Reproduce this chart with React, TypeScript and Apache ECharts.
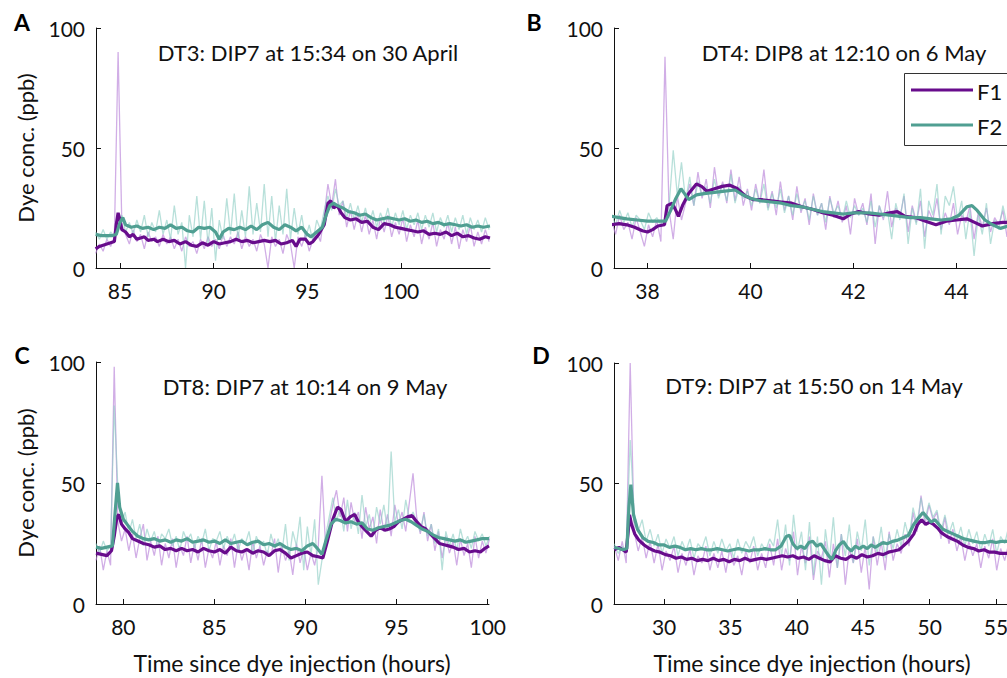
import React, { useEffect, useRef } from "react";
import * as echarts from "echarts";

// ---------- Tick labels ----------
const ticksA = [85, 90, 95, 100];
const ticksB = [38, 40, 42, 44];
const ticksC = [80, 85, 90, 95, 100];
const ticksD = [30, 35, 40, 45, 50, 55];
const yTicks = [0, 50, 100];

// ---------- Titles ----------
const titles = [
  "DT3: DIP7 at 15:34 on 30 April",
  "DT4: DIP8 at 12:10 on 6 May",
  "DT8: DIP7 at 10:14 on 9 May",
  "DT9: DIP7 at 15:50 on 14 May",
];
const panelLetters = ["A", "B", "C", "D"];
const seriesNames = ["F1", "F2"];

// ---------- Panel A (raw samples every 0.2 h from 83.7 h) ----------
const rawStartA = 83.7;
const rawStepA = 0.2;
const rawF1A = [6, 10, 7, 12, 9, 13, 90, 18, 14, 10, 16, 11, 14, 8, 15, 11, 13, 9, 14, 10, 13, 8, 12, 7, 13, 9, 11, 6, 12, 8, 13, 9, 12, 8, 14, 9, 13, 10, 15, 8, 13, 9, 12, 7, 14, 10, 0, 13, 9, 12, 6, 14, 10, 0, 13, 9, 14, 7, 12, 15, 11, 22, 35, 26, 37, 22, 28, 17, 24, 16, 23, 15, 22, 14, 20, 12, 21, 15, 22, 13, 19, 14, 21, 11, 18, 13, 20, 10, 17, 12, 19, 9, 16, 12, 19, 10, 17, 8, 16, 11, 18, 9, 15, 10, 16, 11];
const rawF2A = [15, 12, 16, 12, 15, 13, 17, 22, 15, 19, 14, 20, 15, 22, 13, 19, 15, 24, 14, 20, 12, 26, 14, 19, 0, 22, 13, 30, 12, 28, 10, 25, 3, 20, 12, 29, 14, 31, 12, 24, 13, 34, 14, 27, 15, 35, 13, 30, 11, 26, 14, 33, 12, 25, 14, 22, 12, 18, 11, 20, 16, 24, 30, 24, 33, 26, 28, 21, 27, 20, 26, 19, 25, 18, 24, 17, 23, 19, 25, 17, 23, 18, 24, 16, 22, 18, 23, 16, 22, 17, 23, 15, 21, 17, 22, 15, 21, 16, 22, 14, 21, 16, 20, 15, 21, 16];
const smoothF1A = [[83.7, 8], [83.9, 9], [84.1, 9.5], [84.3, 10], [84.5, 10.5], [84.7, 11], [84.8, 18], [84.9, 23], [85.0, 20], [85.1, 16], [85.3, 15], [85.5, 13], [85.7, 14], [85.9, 12], [86.1, 12.5], [86.3, 13], [86.5, 11.5], [86.8, 12], [87.0, 11], [87.3, 12], [87.6, 11], [87.9, 11.5], [88.2, 10], [88.5, 11], [88.8, 9.5], [89.1, 9], [89.4, 10.5], [89.7, 9.5], [90.0, 11], [90.3, 10], [90.6, 10.5], [90.9, 11], [91.2, 12], [91.5, 11], [91.8, 11.5], [92.1, 10.5], [92.4, 11], [92.7, 11.5], [93.0, 11], [93.3, 11.5], [93.6, 10], [93.9, 10.5], [94.2, 11.5], [94.4, 9], [94.6, 12], [94.9, 12], [95.1, 10], [95.3, 11], [95.6, 14], [95.9, 18], [96.1, 27], [96.25, 28], [96.4, 25], [96.6, 26], [96.8, 23], [97.0, 21], [97.3, 20], [97.6, 20.5], [97.9, 19], [98.2, 19.5], [98.5, 17], [98.8, 16], [99.1, 18.5], [99.4, 18], [99.7, 17], [100.0, 16.5], [100.3, 16], [100.6, 15.5], [100.9, 15], [101.2, 15.5], [101.5, 14], [101.8, 14.5], [102.1, 14], [102.4, 15], [102.7, 13.5], [103.0, 14.5], [103.3, 13], [103.6, 13.5], [103.9, 12.5], [104.2, 12], [104.5, 13], [104.75, 12.5]];
const smoothF2A = [[83.7, 14], [84.0, 13.5], [84.3, 13.5], [84.6, 13.5], [84.8, 14], [85.0, 19], [85.15, 21], [85.3, 18], [85.6, 17], [85.9, 17.5], [86.2, 16.5], [86.5, 17], [86.8, 16], [87.1, 17], [87.4, 16.5], [87.7, 18], [88.0, 16.5], [88.3, 17], [88.6, 15.5], [88.9, 15], [89.2, 17], [89.5, 16.5], [89.8, 17], [90.1, 15], [90.3, 12], [90.5, 15], [90.8, 16.5], [91.1, 16], [91.4, 17], [91.7, 16], [92.0, 17.5], [92.3, 16], [92.6, 18], [92.9, 19], [93.2, 17], [93.5, 16], [93.8, 18], [94.1, 17], [94.4, 15.5], [94.7, 17], [95.0, 14], [95.2, 13], [95.5, 15], [95.8, 17], [96.0, 22], [96.2, 26], [96.4, 27], [96.6, 26], [96.9, 25], [97.2, 23.5], [97.5, 23], [97.8, 22], [98.1, 22.5], [98.4, 21], [98.7, 20], [99.0, 20.5], [99.3, 21], [99.6, 20.5], [99.9, 20], [100.2, 20.5], [100.5, 19.5], [100.8, 20], [101.1, 19], [101.4, 19.5], [101.7, 18.5], [102.0, 19], [102.3, 18], [102.6, 18.5], [102.9, 18], [103.2, 17.5], [103.5, 18], [103.8, 17], [104.1, 17.5], [104.4, 17], [104.75, 17.5]];

// ---------- Panel B (raw samples every 0.08 h from 37.3 h) ----------
const rawStartB = 37.3;
const rawStepB = 0.08;
const rawF1B = [20, 14, 22, 16, 19, 12, 21, 15, 9, 18, 13, 20, 11, 88, 24, 12, 30, 20, 27, 35, 26, 40, 29, 37, 25, 42, 30, 36, 27, 41, 28, 38, 26, 33, 24, 35, 27, 41, 25, 32, 22, 36, 24, 30, 20, 34, 23, 29, 18, 31, 22, 27, 16, 30, 21, 28, 19, 26, 14, 29, 22, 27, 18, 31, 10, 26, 20, 32, 17, 25, 21, 30, 15, 26, 19, 28, 13, 24, 20, 29, 16, 23, 18, 27, 14, 22, 19, 26, 12, 23, 17, 25, 15, 21, 18, 24, 13, 22, 17, 25, 15, 21, 18, 23];
const rawF2B = [22, 18, 24, 19, 23, 17, 22, 20, 16, 23, 19, 21, 18, 20, 26, 49, 30, 44, 28, 38, 26, 36, 30, 34, 27, 37, 29, 35, 28, 39, 27, 34, 29, 32, 26, 33, 27, 35, 24, 31, 25, 33, 23, 30, 22, 31, 24, 28, 20, 30, 22, 27, 19, 29, 23, 26, 20, 28, 21, 26, 22, 25, 19, 28, 17, 26, 21, 24, 12, 27, 20, 31, 10, 25, 18, 33, 8, 28, 22, 35, 14, 30, 26, 34, 20, 28, 12, 24, 5, 22, 14, 27, 10, 20, 16, 26, 18, 23, 15, 24, 19, 22, 17, 21];
const smoothF1B = [[37.3, 18], [37.45, 18.5], [37.6, 18], [37.75, 17], [37.9, 15.5], [38.0, 15], [38.1, 16], [38.2, 17.5], [38.33, 18], [38.38, 26], [38.48, 27], [38.55, 24], [38.6, 21.5], [38.68, 26], [38.8, 31], [38.95, 35], [39.05, 34], [39.15, 32], [39.3, 33], [39.45, 34], [39.6, 34.5], [39.75, 33], [39.9, 30], [40.05, 28.5], [40.2, 28.5], [40.4, 28], [40.6, 27.5], [40.8, 27], [41.0, 25.5], [41.2, 24.5], [41.4, 23], [41.6, 22], [41.8, 20.5], [41.95, 22.5], [42.1, 23.5], [42.3, 22.5], [42.5, 22], [42.7, 23], [42.85, 23.5], [43.0, 21.5], [43.2, 21], [43.4, 19.5], [43.6, 18], [43.8, 19.5], [44.0, 20], [44.2, 20.5], [44.35, 19], [44.5, 17.5], [44.7, 18.5], [44.9, 19], [45.1, 19], [45.3, 18.5], [45.6, 19]];
const smoothF2B = [[37.3, 21.5], [37.45, 21], [37.6, 20.5], [37.8, 20], [38.0, 19.5], [38.2, 19.5], [38.35, 19.5], [38.45, 24], [38.55, 29], [38.65, 33], [38.72, 31], [38.8, 28.5], [38.95, 30.5], [39.1, 31], [39.3, 31.5], [39.5, 32], [39.7, 32.5], [39.85, 30.5], [40.0, 29], [40.2, 28], [40.4, 27.5], [40.6, 27], [40.8, 26], [41.0, 25.5], [41.2, 24.5], [41.4, 23.5], [41.6, 23], [41.8, 22.5], [42.0, 23], [42.3, 23], [42.5, 22.5], [42.7, 22], [42.9, 21.5], [43.1, 21], [43.3, 21], [43.5, 20.5], [43.7, 20], [43.9, 20.5], [44.05, 22], [44.2, 25.5], [44.3, 26], [44.4, 24], [44.55, 20], [44.7, 18], [44.85, 16.5], [45.0, 17.5], [45.15, 20], [45.3, 21], [45.6, 20.5]];

// ---------- Panel C (raw samples every 0.2 h from 78.5 h) ----------
const rawStartC = 78.5;
const rawStepC = 0.2;
const rawF1C = [18, 24, 14, 22, 16, 98, 34, 26, 31, 22, 29, 19, 27, 33, 18, 26, 20, 28, 16, 25, 19, 27, 15, 24, 20, 28, 17, 25, 18, 27, 15, 23, 19, 26, 16, 24, 20, 27, 15, 25, 18, 23, 14, 26, 19, 24, 16, 22, 20, 27, 13, 24, 18, 22, 12, 25, 17, 23, 14, 21, 16, 24, 53, 24, 33, 41, 47, 36, 44, 30, 42, 34, 38, 27, 40, 31, 36, 25, 39, 30, 37, 28, 41, 33, 38, 30, 42, 54, 36, 29, 38, 26, 33, 22, 30, 19, 28, 21, 26, 16, 27, 20, 25, 15, 28, 19, 26, 21, 27];
const rawF2C = [25, 21, 26, 22, 24, 82, 48, 33, 38, 29, 35, 27, 33, 24, 31, 26, 30, 23, 29, 27, 31, 24, 28, 22, 30, 26, 29, 23, 28, 25, 31, 22, 27, 26, 30, 23, 28, 24, 29, 22, 27, 25, 30, 21, 28, 24, 26, 20, 29, 23, 27, 21, 33, 18, 30, 24, 36, 14, 32, 20, 35, 8, 18, 28, 36, 44, 34, 40, 30, 43, 31, 38, 29, 45, 32, 37, 28, 40, 33, 41, 30, 63, 34, 39, 31, 43, 35, 38, 34, 30, 37, 28, 33, 25, 31, 14, 30, 24, 29, 22, 31, 25, 28, 23, 30, 26, 29, 24, 28];
const smoothF1C = [[78.5, 21], [78.8, 20.5], [79.1, 20], [79.35, 22], [79.5, 28], [79.65, 36], [79.75, 37], [79.9, 33], [80.1, 31], [80.3, 29.5], [80.5, 27], [80.8, 26], [81.1, 25], [81.4, 24.5], [81.7, 23.5], [82.0, 24], [82.3, 22.5], [82.6, 23], [82.9, 22], [83.2, 23], [83.5, 22], [83.8, 22.5], [84.1, 21.5], [84.4, 23], [84.7, 22], [85.0, 21.5], [85.3, 22.5], [85.6, 21], [85.9, 23.5], [86.2, 22], [86.5, 21.5], [86.8, 22.5], [87.1, 21], [87.4, 22], [87.7, 21.5], [88.0, 20], [88.3, 22], [88.6, 22.5], [88.9, 21], [89.2, 19], [89.5, 20], [89.8, 21], [90.1, 21.5], [90.4, 20], [90.7, 19.5], [90.95, 19], [91.2, 26], [91.5, 35], [91.75, 40], [91.95, 39], [92.2, 34], [92.45, 36], [92.7, 37], [92.9, 34], [93.1, 32], [93.35, 30], [93.6, 28], [93.85, 30.5], [94.1, 31.5], [94.35, 30.5], [94.6, 31], [94.85, 32], [95.1, 34], [95.35, 35], [95.6, 36], [95.85, 36.5], [96.1, 34], [96.35, 32], [96.6, 31], [96.85, 29], [97.1, 27], [97.35, 25], [97.6, 24.5], [97.85, 24], [98.1, 23.5], [98.4, 22.5], [98.7, 23], [99.0, 21.5], [99.3, 22], [99.6, 21.5], [99.85, 23], [100.07, 24]];
const smoothF2C = [[78.5, 23.5], [78.8, 23], [79.1, 23.5], [79.4, 24], [79.55, 38], [79.68, 50], [79.8, 40], [80.0, 35], [80.2, 33], [80.5, 30], [80.8, 28], [81.1, 27], [81.4, 26.5], [81.7, 27], [82.0, 26], [82.3, 26.5], [82.6, 25.5], [82.9, 26.5], [83.2, 26], [83.5, 27], [83.8, 25.5], [84.1, 26], [84.4, 26.5], [84.7, 25.5], [85.0, 26], [85.3, 25], [85.6, 26.5], [85.9, 25], [86.2, 25.5], [86.5, 26], [86.8, 24.5], [87.1, 25.5], [87.4, 26], [87.7, 24.5], [88.0, 25], [88.3, 24], [88.6, 25], [88.9, 23.5], [89.2, 22.5], [89.5, 23], [89.8, 22], [90.1, 24], [90.4, 25], [90.65, 23], [90.9, 20.5], [91.15, 27], [91.4, 33], [91.65, 35], [91.9, 34.5], [92.2, 33.5], [92.5, 34], [92.8, 33], [93.1, 33.5], [93.4, 31], [93.7, 30.5], [94.0, 31.5], [94.3, 32], [94.6, 32.5], [94.9, 33.5], [95.2, 34.5], [95.5, 35], [95.8, 34], [96.1, 32.5], [96.4, 31], [96.7, 30], [97.0, 28.5], [97.3, 27.5], [97.6, 27], [97.9, 26.5], [98.2, 26], [98.5, 26.5], [98.8, 25.5], [99.1, 26], [99.4, 26.5], [99.7, 27], [100.07, 27]];

// ---------- Panel D (raw samples every 0.3 h from 26.25 h) ----------
const rawStartD = 26.25;
const rawStepD = 0.3;
const rawF1D = [24, 18, 26, 17, 100, 30, 22, 28, 19, 26, 17, 25, 14, 22, 18, 24, 13, 21, 16, 23, 12, 20, 17, 24, 14, 21, 15, 22, 13, 23, 16, 20, 12, 22, 17, 24, 14, 21, 15, 25, 16, 27, 14, 23, 18, 30, 12, 24, 17, 28, 10, 22, 19, 26, 11, 25, 15, 29, 8, 23, 17, 27, 13, 24, 6, 28, 16, 26, 14, 30, 18, 25, 21, 29, 24, 38, 30, 45, 33, 41, 35, 38, 27, 36, 25, 31, 22, 28, 18, 26, 20, 25, 15, 24, 19, 27, 14, 23, 18, 25, 15, 22, 19, 24, 16, 23, 17, 22];
const rawF2D = [25, 21, 24, 22, 68, 38, 30, 35, 26, 31, 24, 29, 21, 27, 23, 28, 20, 26, 22, 27, 19, 25, 23, 28, 20, 26, 21, 27, 22, 25, 19, 27, 21, 26, 23, 28, 20, 25, 22, 27, 24, 35, 20, 33, 16, 37, 22, 30, 14, 34, 12, 28, 8, 31, 18, 36, 15, 29, 20, 33, 17, 30, 22, 35, 16, 28, 21, 32, 19, 29, 23, 31, 24, 34, 27, 40, 33, 44, 35, 42, 36, 39, 30, 37, 29, 34, 26, 32, 24, 31, 25, 30, 22, 29, 24, 31, 21, 28, 25, 32, 22, 29, 24, 30, 23, 28, 25, 29];
const smoothF1D = [[26.25, 22.5], [26.6, 23.5], [26.9, 22.5], [27.15, 21.5], [27.3, 30], [27.4, 37], [27.55, 33], [27.8, 29], [28.1, 26.5], [28.5, 24.5], [28.9, 23], [29.3, 22], [29.7, 21.5], [30.1, 20.5], [30.5, 20], [30.9, 19], [31.3, 19.5], [31.7, 18.5], [32.1, 19], [32.5, 18], [32.9, 18.5], [33.3, 18], [33.7, 19], [34.1, 18], [34.5, 18.5], [34.9, 17.5], [35.3, 18.5], [35.7, 18], [36.1, 19], [36.5, 18], [36.9, 18.5], [37.3, 19], [37.7, 18.5], [38.1, 19], [38.5, 19.5], [38.9, 20], [39.3, 19.5], [39.7, 20], [40.1, 19], [40.5, 19.5], [40.9, 18.5], [41.3, 20], [41.7, 19], [42.1, 18], [42.5, 17.5], [42.9, 20], [43.3, 19], [43.7, 18.5], [44.1, 20], [44.5, 19], [44.9, 20.5], [45.3, 19.5], [45.7, 20], [46.1, 21], [46.5, 20.5], [46.9, 21.5], [47.3, 22], [47.7, 22.5], [48.0, 24], [48.4, 26], [48.8, 29], [49.1, 33], [49.4, 35], [49.7, 33], [50.0, 34], [50.3, 33], [50.6, 31.5], [50.9, 29.5], [51.3, 28], [51.7, 27], [52.1, 26], [52.5, 24.5], [52.9, 23.5], [53.3, 23], [53.7, 22], [54.1, 22.5], [54.5, 21.5], [54.9, 21.5], [55.3, 21], [55.8, 21], [56.5, 20.5], [57.3, 21], [58.3, 20.5]];
const smoothF2D = [[26.25, 23.5], [26.6, 23], [26.9, 22.5], [27.2, 23], [27.35, 40], [27.5, 49.5], [27.7, 37], [28.0, 31], [28.4, 27.5], [28.8, 26], [29.2, 25.5], [29.6, 24.5], [30.0, 24.5], [30.4, 23.5], [30.8, 24], [31.2, 23.5], [31.6, 22.5], [32.0, 23], [32.4, 22.5], [32.8, 23], [33.2, 22.5], [33.6, 22.5], [34.0, 23], [34.4, 22.5], [34.8, 22], [35.2, 22.5], [35.6, 23], [36.0, 22.5], [36.4, 22], [36.8, 22.5], [37.2, 22.5], [37.6, 23], [38.0, 22.5], [38.4, 22.5], [38.8, 24], [39.2, 28], [39.45, 28.5], [39.7, 25], [40.0, 23], [40.3, 24], [40.6, 23], [40.9, 25.5], [41.2, 26], [41.5, 24], [41.8, 25], [42.1, 22.5], [42.4, 20], [42.65, 18.5], [42.9, 22], [43.2, 24.5], [43.5, 26], [43.8, 23.5], [44.1, 22], [44.4, 24], [44.7, 23], [45.0, 24], [45.3, 23], [45.6, 24.5], [45.9, 23.5], [46.2, 24.5], [46.5, 25.5], [46.8, 25], [47.2, 26], [47.6, 26.5], [48.0, 27.5], [48.4, 28.5], [48.8, 33], [49.2, 36], [49.5, 38], [49.8, 36], [50.1, 34], [50.4, 35], [50.7, 33], [51.0, 31], [51.4, 30], [51.8, 29], [52.2, 28], [52.6, 27], [53.0, 26.5], [53.4, 26], [53.8, 25.5], [54.2, 25.5], [54.6, 26], [55.0, 25.5], [55.4, 26], [55.8, 26], [56.5, 25.5], [57.3, 26], [58.3, 25.5]];

// ---------- Layout & style (kept apart from data) ----------
const FONT = 'Lato, "Open Sans", "DejaVu Sans", sans-serif';
const C_F1 = "#680c8c";
const C_F2 = "#509f92";
const C_F1_RAW = "rgba(190,140,220,0.7)";
const C_F2_RAW = "rgba(140,205,195,0.62)";

const layout = [
  { left: 96, top: 28, width: 394, height: 240, min: 83.72, max: 104.75, ticks: ticksA },
  { left: 614, top: 28, width: 426, height: 240, min: 37.35, max: 45.62, ticks: ticksB },
  { left: 96, top: 362, width: 393, height: 242, min: 78.5, max: 100.07, ticks: ticksC },
  { left: 614, top: 363, width: 426, height: 241, min: 26.23, max: 58.31, ticks: ticksD },
];

const toPairs = (vals: number[], start: number, step: number) =>
  vals.map((v, i) => [Math.round((start + i * step) * 1000) / 1000, v]);

const panelData = [
  { r1: toPairs(rawF1A, rawStartA, rawStepA), r2: toPairs(rawF2A, rawStartA, rawStepA), s1: smoothF1A, s2: smoothF2A },
  { r1: toPairs(rawF1B, rawStartB, rawStepB), r2: toPairs(rawF2B, rawStartB, rawStepB), s1: smoothF1B, s2: smoothF2B },
  { r1: toPairs(rawF1C, rawStartC, rawStepC), r2: toPairs(rawF2C, rawStartC, rawStepC), s1: smoothF1C, s2: smoothF2C },
  { r1: toPairs(rawF1D, rawStartD, rawStepD), r2: toPairs(rawF2D, rawStartD, rawStepD), s1: smoothF1D, s2: smoothF2D },
];

const titlePos = [
  [308, 52],
  [844, 52],
  [305, 386],
  [814, 385],
];
const letterPos = [
  [22, 22],
  [534, 22],
  [22, 355],
  [541, 355],
];

export default function App() {
  const ref = useRef<HTMLDivElement>(null);

  useEffect(() => {
    if (!ref.current) return;
    const chart = echarts.init(ref.current, undefined, { renderer: "svg" });

    const series: any[] = [];
    panelData.forEach((p, i) => {
      const base = { type: "line", xAxisIndex: i, yAxisIndex: i, showSymbol: false, symbol: "none", silent: true };
      series.push({ ...base, name: seriesNames[0] + " raw", data: p.r1, lineStyle: { color: C_F1_RAW, width: 1.3 }, z: 1 });
      series.push({ ...base, name: seriesNames[1] + " raw", data: p.r2, lineStyle: { color: C_F2_RAW, width: 1.3 }, z: 1 });
      series.push({ ...base, name: seriesNames[0], data: p.s1, lineStyle: { color: C_F1, width: 3.2 }, z: 3 });
      series.push({ ...base, name: seriesNames[1], data: p.s2, lineStyle: { color: C_F2, width: 3.2 }, z: 4 });
    });

    const graphic: any[] = [];
    titles.forEach((t, i) => {
      graphic.push({
        type: "text", x: titlePos[i][0], y: titlePos[i][1],
        style: { text: t, fontFamily: FONT, fontSize: 22, fill: "#111", align: "center", verticalAlign: "middle" },
      });
      graphic.push({
        type: "text", x: letterPos[i][0], y: letterPos[i][1],
        style: { text: panelLetters[i], fontFamily: FONT, fontSize: 23, fontWeight: "bold", fill: "#000", align: "center", verticalAlign: "middle" },
      });
    });
    [[25, 148], [25, 483]].forEach(([x, y]) => {
      graphic.push({
        type: "text", x, y, rotation: Math.PI / 2,
        style: { text: "Dye conc. (ppb)", fontFamily: FONT, fontSize: 22, fill: "#111", align: "center", verticalAlign: "middle" },
      });
    });
    [[292, 663], [812, 663]].forEach(([x, y]) => {
      graphic.push({
        type: "text", x, y,
        style: { text: "Time since dye injection (hours)", fontFamily: FONT, fontSize: 23, fill: "#111", align: "center", verticalAlign: "middle" },
      });
    });
    // legend box in panel B
    graphic.push({ type: "rect", shape: { x: 904.5, y: 73.5, width: 150, height: 72 }, style: { fill: "#fff", stroke: "#333", lineWidth: 1 }, z: 10 });
    graphic.push({ type: "line", shape: { x1: 911, y1: 90, x2: 973, y2: 90 }, style: { stroke: C_F1, lineWidth: 3 }, z: 11 });
    graphic.push({ type: "line", shape: { x1: 911, y1: 125, x2: 973, y2: 125 }, style: { stroke: C_F2, lineWidth: 3 }, z: 11 });
    graphic.push({ type: "text", x: 977, y: 91, style: { text: seriesNames[0], fontFamily: FONT, fontSize: 22, fill: "#111", align: "left", verticalAlign: "middle" }, z: 11 });
    graphic.push({ type: "text", x: 977, y: 126, style: { text: seriesNames[1], fontFamily: FONT, fontSize: 22, fill: "#111", align: "left", verticalAlign: "middle" }, z: 11 });

    const option: any = {
      animation: false,
      backgroundColor: "#fff",
      textStyle: { fontFamily: FONT },
      grid: layout.map((l) => ({ left: l.left, top: l.top, width: l.width, height: l.height, containLabel: false })),
      xAxis: layout.map((l, i) => ({
        type: "value", gridIndex: i, min: l.min, max: l.max,
        axisLine: { show: true, lineStyle: { color: "#111", width: 1 } },
        axisTick: { show: true, inside: true, length: 5, customValues: l.ticks, lineStyle: { color: "#111" } },
        axisLabel: { customValues: l.ticks, fontSize: 21, color: "#111", margin: 12, fontFamily: FONT },
        splitLine: { show: false },
      })),
      yAxis: layout.map((l, i) => ({
        type: "value", gridIndex: i, min: 0, max: 100,
        axisLine: { show: true, lineStyle: { color: "#111", width: 1 } },
        axisTick: { show: true, inside: true, length: 5, customValues: yTicks, lineStyle: { color: "#111" } },
        axisLabel: { customValues: yTicks, fontSize: 21, color: "#111", margin: 11, fontFamily: FONT },
        splitLine: { show: false },
      })),
      series,
      graphic,
    };
    chart.setOption(option);
    return () => chart.dispose();
  }, []);

  return (
    <div style={{ position: "fixed", left: 0, top: 0, width: 1007, height: 678, overflow: "hidden", background: "#fff" }}>
      <div ref={ref} style={{ width: 1040, height: 678 }} />
    </div>
  );
}
